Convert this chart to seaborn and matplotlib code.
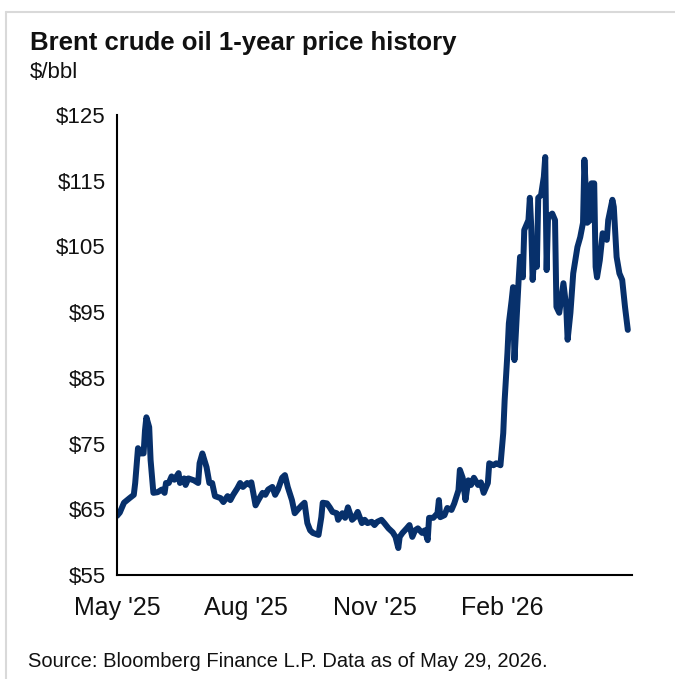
import pandas as pd
import seaborn as sns
import matplotlib.pyplot as plt
from matplotlib.lines import Line2D

# Brent crude, $/bbl (days counted from the first point)
start_date = "2025-05-29"
days = [0, 2, 5, 9, 12, 13, 15, 17, 19, 20, 21, 23, 24, 26, 29, 32, 34, 35, 37, 39,
        41, 44, 45, 48, 49, 51, 55, 58, 59, 61, 64, 66, 68, 70, 74, 76, 79, 81, 83, 86,
        88, 90, 93, 95, 96, 99, 101, 104, 106, 108, 111, 113, 115, 118, 120, 122, 125, 127, 129, 132,
        134, 136, 138, 140, 144, 146, 147, 150, 152, 154, 157, 158, 161, 163, 165, 168, 170, 172, 175, 177,
        179, 182, 184, 186, 189, 191, 194, 197, 199, 201, 202, 204, 207, 209, 211, 213, 215, 218, 220, 222,
        223, 226, 229, 230, 231, 234, 236, 239, 241, 244, 245, 247, 249, 251, 253, 255, 258, 260, 262, 265,
        266, 269, 271, 274, 276, 277, 279, 280, 282, 283, 284, 286, 287, 288, 290, 291, 294, 295, 296, 297,
        299, 300, 301, 303, 305, 306, 307, 308, 311, 313, 314, 316, 319, 321, 322, 324, 326, 329, 331, 333,
        334, 336, 338, 339, 341, 342, 343, 345, 347, 350, 351, 354, 355, 357, 359, 361, 363, 365]
price = [64.0, 64.5, 66.0, 66.7, 67.2, 69.0, 74.3, 73.5, 73.5, 77.0, 79.0, 77.5, 72.5, 67.5, 67.6, 68.0, 67.5, 69.0, 69.0, 70.0,
         69.5, 70.5, 69.0, 69.7, 68.7, 69.7, 69.4, 69.0, 72.0, 73.5, 71.4, 69.0, 69.0, 67.0, 66.7, 66.1, 67.0, 66.4, 67.2, 68.2,
         69.0, 68.4, 69.0, 68.7, 69.1, 65.6, 66.4, 67.5, 67.2, 68.0, 68.4, 67.2, 68.0, 69.8, 70.2, 68.4, 66.4, 64.4, 64.9, 65.6,
         66.0, 62.9, 61.8, 61.4, 61.1, 63.8, 66.0, 65.9, 65.3, 64.6, 64.4, 63.4, 64.4, 63.7, 65.3, 63.4, 63.8, 64.6, 62.9, 63.4,
         62.9, 63.1, 62.6, 63.1, 63.4, 62.9, 62.1, 61.5, 60.8, 59.1, 60.8, 61.4, 62.1, 62.6, 60.8, 61.8, 62.1, 61.4, 61.8, 60.3,
         63.7, 63.7, 64.4, 66.4, 63.8, 64.1, 65.2, 64.9, 65.9, 67.9, 71.0, 69.8, 66.4, 69.4, 68.7, 69.8, 68.7, 69.1, 67.5, 69.0,
         72.0, 71.7, 72.0, 71.7, 76.6, 81.6, 88.8, 93.3, 96.8, 98.8, 87.7, 95.8, 99.9, 103.4, 100.3, 107.5, 109.0, 112.4, 108.0, 99.9,
         106.0, 101.9, 112.4, 112.8, 115.6, 118.6, 101.4, 109.5, 110.0, 109.0, 95.8, 94.9, 99.4, 95.8, 90.8, 94.9, 100.9, 104.9, 106.4, 108.6,
         118.2, 108.6, 109.0, 114.6, 114.6, 101.9, 100.3, 102.9, 107.0, 106.0, 109.0, 112.1, 111.0, 103.4, 100.9, 99.9, 95.8, 92.3]

y_ticks = [55, 65, 75, 85, 95, 105, 115, 125]
x_tick_labels = ["May '25", "Aug '25", "Nov '25", "Feb '26"]

df = pd.DataFrame({
    "date": pd.Timestamp(start_date) + pd.to_timedelta(days, unit="D"),
    "price": price,
})

sns.set_style("white")
plt.rcParams['font.family'] = ['Liberation Sans', 'DejaVu Sans']

fig = plt.figure(figsize=(6.75, 6.79), dpi=100)
ax = fig.add_axes([117 / 675, 1 - 575 / 679, (632 - 117) / 675, (575 - 115) / 679])

sns.lineplot(data=df, x="date", y="price", ax=ax, color="#07306B", linewidth=4.3)

t0 = pd.Timestamp(start_date)
x_ticks = [t0 + pd.DateOffset(months=3 * i) for i in range(len(x_tick_labels))]
ax.set_xticks(x_ticks)
ax.set_xticklabels(x_tick_labels)
ax.set_xlim(t0, t0 + pd.Timedelta(days=368))
ax.set_ylim(55, 125)
ax.set_yticks(y_ticks)
ax.set_yticklabels([f"${v}" for v in y_ticks])
ax.set_xlabel("")
ax.set_ylabel("")

for side in ["top", "right"]:
    ax.spines[side].set_visible(False)
for side in ["left", "bottom"]:
    ax.spines[side].set_color("black")
    ax.spines[side].set_linewidth(1.5)
ax.tick_params(axis="both", direction="out", length=5, width=1.5, color="black",
               labelcolor="#111111")
ax.tick_params(axis="y", pad=3, labelsize=16)
ax.tick_params(axis="x", pad=10, labelsize=18)

fig.text(30 / 675, 1 - 50 / 679, "Brent crude oil 1-year price history",
         fontsize=18.5, fontweight="bold", color="#111111", va="baseline")
fig.text(30 / 675, 1 - 78 / 679, "$/bbl", fontsize=16, color="#111111", va="baseline")
fig.text(28 / 675, 1 - 667 / 679, "Source: Bloomberg Finance L.P. Data as of May 29, 2026.",
         fontsize=14.5, color="#111111", va="baseline")

# light grey frame around the panel
fig.add_artist(Line2D([6 / 675, 1.0], [1 - 12 / 679, 1 - 12 / 679], color="#D9D9D9", linewidth=1.5))
fig.add_artist(Line2D([6 / 675, 6 / 675], [0.0, 1 - 12 / 679], color="#D9D9D9", linewidth=1.5))

fig.savefig("out.png", dpi=100)
